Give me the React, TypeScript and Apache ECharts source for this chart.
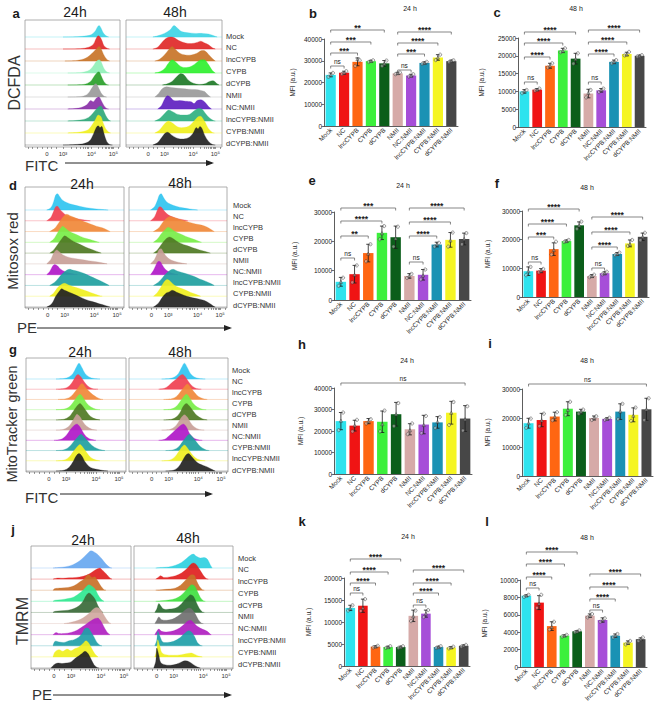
import React, { useEffect, useRef, useState } from "react";
import * as echarts from "echarts";

// ---------------- categories & labels ----------------
const GROUPS = ["Mock", "NC", "lncCYPB", "CYPB", "dCYPB", "NMII", "NC:NMII", "lncCYPB:NMII", "CYPB:NMII", "dCYPB:NMII"];
const GROUPS_G = ["Mock", "NC", "lncCYPB", "CYPB", "dCYPB", "NMII", "NC:NMII", "CYPB:NMII", "lncCYPB:NMII", "dCYPB:NMII"];
const BAR_COLORS = ["#2ee3ee", "#f01414", "#ff6612", "#3cf03c", "#0b5e1a", "#d6aaa8", "#a64ed8", "#1a92b4", "#f5f522", "#474747"];
const FLOW_TICK_LABELS = ["0", "10³", "10⁴", "10⁵"];
const FLOW_TICK_AT = [23, 40, 70, 93];
const FLOW_MINOR_AT = [3, 8, 13, 18, 23, 28, 33, 40, 49, 54, 58, 61, 63, 65, 67, 70, 77, 81, 84, 86, 88, 89, 91, 92, 93, 98];

// ---------------- bar data (MFI, a.u.) ----------------
const B_MEAN = [23500, 24500, 29500, 29800, 28800, 24200, 23200, 29000, 31500, 29800];
const B_SD = [900, 700, 1800, 400, 1300, 500, 600, 500, 1300, 500];
const B_REPS = [[22600, 23500, 24400], [23900, 24500, 25200], [27600, 30800, 30200], [29400, 29900, 30200], [27600, 28700, 30100], [23800, 24300, 24600], [22700, 23100, 23800], [28600, 29000, 29500], [30300, 31500, 32800], [29400, 29900, 30200]];
const B_SIG = [[0, 4, "**"], [0, 3, "***"], [0, 2, "***"], [0, 1, "ns"], [5, 9, "****"], [5, 8, "****"], [5, 7, "***"], [5, 6, "ns"]];

const C_MEAN = [10000, 10500, 17200, 21500, 19200, 9400, 10300, 18300, 20500, 20000];
const C_SD = [500, 300, 700, 600, 1500, 1200, 500, 500, 500, 200];
const C_REPS = [[9500, 10100, 10400], [10200, 10500, 10800], [16700, 17200, 17900], [21000, 21400, 22100], [17800, 19100, 20700], [8300, 9600, 10400], [9800, 10400, 10800], [17900, 18300, 18800], [20100, 20400, 21100], [19800, 20000, 20200]];
const C_SIG = [[0, 4, "****"], [0, 3, "****"], [0, 2, "****"], [0, 1, "ns"], [5, 9, "****"], [5, 8, "****"], [5, 7, "****"], [5, 6, "ns"]];

const E_MEAN = [6200, 8800, 16000, 22900, 21400, 8200, 8600, 18900, 20500, 20800];
const E_SD = [1500, 3000, 3000, 2300, 3800, 800, 1800, 800, 2500, 2000];
const E_REPS = [[4800, 6200, 7600], [6000, 8600, 11800], [13200, 15800, 19000], [20700, 22800, 25200], [18200, 21000, 25000], [7500, 8200, 8900], [7000, 8400, 10400], [18200, 19000, 19500], [18200, 20300, 23000], [19000, 20800, 22800]];
const E_SIG = [[0, 4, "***"], [0, 3, "****"], [0, 2, "**"], [0, 1, "ns"], [5, 9, "****"], [5, 8, "****"], [5, 7, "****"], [5, 6, "ns"]];

const F_MEAN = [9000, 9200, 16700, 19500, 25000, 7300, 8300, 15000, 18700, 21000];
const F_SD = [1500, 700, 2200, 400, 1200, 500, 500, 500, 1200, 1300];
const F_REPS = [[7600, 9000, 10500], [8600, 9200, 9800], [14800, 16400, 19300], [19200, 19500, 19900], [23800, 25000, 26300], [6900, 7300, 7800], [7900, 8300, 8800], [14600, 15000, 15500], [17800, 18400, 19900], [19800, 21000, 22400]];
const F_SIG = [[0, 4, "****"], [0, 3, "****"], [0, 2, "***"], [0, 1, "ns"], [5, 9, "****"], [5, 8, "****"], [5, 7, "****"], [5, 6, "ns"]];

const H_MEAN = [24600, 22500, 24600, 24300, 27800, 20800, 23000, 24000, 28500, 25800];
const H_SD = [4000, 2500, 1200, 5000, 5500, 2600, 4300, 2700, 5300, 6000];
const H_REPS = [[20400, 24800, 28600], [19800, 22600, 25200], [23500, 24500, 25500], [19800, 23200, 29500], [22300, 27800, 33000], [18500, 20400, 23500], [19000, 22800, 27000], [21400, 24300, 26500], [22800, 28500, 33500], [20200, 25500, 31500]];
const H_SIG = [[0, 9, "ns"]];

const I_MEAN = [18200, 19300, 20500, 23200, 22200, 20000, 19700, 22200, 21100, 23000];
const I_SD = [1700, 2300, 1500, 2400, 800, 700, 400, 2700, 2400, 3800];
const I_REPS = [[16600, 18200, 19800], [17200, 19200, 21500], [19200, 20400, 22000], [21000, 22800, 25600], [21500, 22200, 22900], [19300, 20100, 20600], [19300, 19700, 20100], [19600, 22300, 24900], [19000, 20800, 23600], [19300, 23000, 26800]];
const I_SIG = [[0, 9, "ns"]];

const K_MEAN = [13200, 13700, 4400, 4300, 4300, 11400, 11900, 4300, 4200, 4600];
const K_SD = [600, 1500, 200, 200, 200, 1300, 800, 200, 200, 200];
const K_REPS = [[12600, 13100, 13800], [12500, 13200, 15200], [4200, 4400, 4600], [4100, 4300, 4500], [4100, 4300, 4500], [10200, 11300, 12600], [11100, 11900, 12700], [4100, 4300, 4500], [4000, 4200, 4400], [4400, 4600, 4800]];
const K_SIG = [[0, 4, "****"], [0, 3, "****"], [0, 2, "****"], [0, 1, "ns"], [5, 9, "****"], [5, 8, "****"], [5, 7, "****"], [5, 6, "ns"]];

const L_MEAN = [8200, 7400, 4700, 3600, 4100, 5900, 5400, 3600, 2800, 3200];
const L_SD = [100, 800, 500, 100, 80, 200, 250, 200, 200, 150];
const L_REPS = [[8050, 8200, 8300], [6800, 7300, 8300], [4300, 4600, 5200], [3500, 3600, 3700], [4000, 4100, 4200], [5700, 5900, 6100], [5200, 5400, 5600], [3400, 3600, 3800], [2600, 2800, 3000], [3000, 3200, 3400]];
const L_SIG = [[0, 4, "****"], [0, 3, "****"], [0, 2, "****"], [0, 1, "ns"], [5, 9, "****"], [5, 8, "****"], [5, 7, "****"], [5, 6, "ns"]];

// ---------------- flow histograms: [x (axis units 0..100), height (rows)] ----------------
const A24 = [
  [[40, 0], [55, 0.03], [65, 0.1], [70, 0.2], [74, 0.5], [76, 0.8], [78, 0.95], [80, 0.75], [82, 0.4], [85, 0.12], [88, 0]],
  [[40, 0], [58, 0.03], [67, 0.15], [72, 0.4], [75, 0.9], [77, 1.1], [79, 1.0], [81, 0.7], [83, 0.3], [86, 0.08], [89, 0]],
  [[42, 0], [55, 0.05], [63, 0.2], [68, 0.45], [72, 0.75], [75, 1.0], [78, 1.2], [80, 1.05], [83, 0.5], [86, 0.15], [89, 0]],
  [[45, 0], [60, 0.05], [68, 0.25], [72, 0.6], [75, 0.95], [78, 1.1], [80, 0.95], [83, 0.4], [86, 0.1], [89, 0]],
  [[45, 0], [62, 0.05], [69, 0.3], [73, 0.75], [76, 1.05], [78, 1.1], [80, 0.8], [83, 0.3], [86, 0.05], [88, 0]],
  [[45, 0], [60, 0.05], [66, 0.25], [70, 0.7], [73, 1.05], [75, 1.1], [77, 0.85], [80, 0.35], [83, 0.08], [86, 0]],
  [[45, 0], [58, 0.1], [65, 0.35], [69, 0.7], [72, 0.6], [75, 0.9], [78, 1.0], [80, 0.75], [83, 0.3], [86, 0.05], [88, 0]],
  [[45, 0], [60, 0.1], [67, 0.3], [71, 0.6], [74, 0.9], [77, 1.15], [80, 1.25], [82, 1.0], [85, 0.45], [88, 0.1], [90, 0]],
  [[45, 0], [58, 0.08], [66, 0.25], [70, 0.6], [74, 1.1], [77, 1.5], [80, 1.35], [82, 0.9], [85, 0.35], [88, 0.08], [90, 0]],
  [[40, 0], [55, 0.05], [62, 0.12], [68, 0.35], [72, 0.9], [75, 1.45], [77, 1.6], [79, 1.45], [81, 1.55], [83, 1.0], [86, 0.3], [89, 0.05], [92, 0]],
];
const A48 = [
  [[28, 0], [33, 0.1], [40, 0.3], [46, 0.6], [50, 0.95], [54, 0.7], [58, 0.45], [65, 0.35], [72, 0.3], [80, 0.3], [86, 0.25], [91, 0.12], [95, 0]],
  [[28, 0], [33, 0.15], [38, 0.6], [42, 0.9], [46, 1.0], [50, 0.95], [55, 0.7], [62, 0.5], [68, 0.45], [74, 0.55], [78, 0.65], [82, 0.5], [86, 0.35], [90, 0.1], [93, 0]],
  [[30, 0], [35, 0.15], [40, 0.5], [44, 0.9], [48, 1.2], [51, 1.0], [56, 0.65], [62, 0.5], [68, 0.5], [74, 0.65], [78, 0.85], [82, 0.85], [86, 0.55], [90, 0.2], [93, 0]],
  [[30, 0], [35, 0.1], [40, 0.35], [44, 0.8], [48, 1.1], [52, 0.9], [57, 0.55], [63, 0.45], [69, 0.6], [74, 0.9], [78, 1.1], [82, 1.1], [86, 0.7], [90, 0.2], [93, 0]],
  [[38, 0], [43, 0.1], [48, 0.3], [53, 0.7], [57, 0.95], [61, 0.8], [65, 0.4], [70, 0.15], [76, 0.05], [82, 0.1], [87, 0.3], [91, 0.35], [95, 0.1], [97, 0]],
  [[30, 0], [34, 0.3], [38, 0.7], [42, 0.85], [47, 0.8], [52, 0.75], [58, 0.7], [65, 0.65], [72, 0.62], [78, 0.55], [82, 0.45], [85, 0.2], [88, 0]],
  [[33, 0], [37, 0.3], [40, 0.8], [43, 1.1], [46, 1.0], [50, 0.7], [56, 0.7], [62, 0.65], [68, 0.6], [71, 0.45], [74, 0.7], [79, 0.75], [83, 0.5], [86, 0.2], [89, 0]],
  [[30, 0], [35, 0.2], [40, 0.6], [44, 0.9], [48, 0.8], [54, 0.55], [60, 0.5], [66, 0.55], [71, 0.85], [75, 1.05], [79, 1.0], [83, 0.6], [87, 0.25], [91, 0.05], [93, 0]],
  [[30, 0], [35, 0.25], [40, 0.75], [44, 1.0], [48, 0.85], [54, 0.5], [60, 0.45], [66, 0.6], [71, 1.0], [75, 1.35], [78, 1.4], [82, 0.95], [86, 0.35], [90, 0.05], [92, 0]],
  [[28, 0], [33, 0.2], [37, 0.6], [41, 1.0], [44, 1.05], [48, 0.8], [54, 0.55], [60, 0.5], [66, 0.65], [70, 1.0], [73, 1.45], [75, 1.35], [77, 1.55], [79, 1.4], [82, 0.8], [86, 0.3], [90, 0.05], [93, 0]],
];
const D24 = [
  [[22, 0], [26, 0.2], [29, 0.8], [31, 1.4], [33, 1.5], [35, 1.25], [38, 0.9], [42, 0.7], [48, 0.5], [55, 0.35], [62, 0.22], [70, 0.12], [78, 0.05], [84, 0]],
  [[22, 0], [26, 0.3], [29, 0.9], [31, 1.3], [33, 1.35], [35, 1.1], [38, 0.8], [42, 0.5], [48, 0.3], [55, 0.15], [62, 0.05], [66, 0]],
  [[25, 0], [30, 0.3], [34, 0.8], [38, 1.3], [42, 1.6], [46, 1.45], [50, 1.3], [55, 1.1], [60, 0.9], [66, 0.7], [72, 0.5], [78, 0.35], [83, 0.15], [86, 0]],
  [[25, 0], [29, 0.3], [33, 0.9], [36, 1.3], [38, 1.5], [41, 1.3], [45, 1.0], [50, 0.8], [56, 0.55], [62, 0.35], [68, 0.2], [73, 0.05], [75, 0]],
  [[25, 0], [29, 0.3], [33, 0.8], [37, 1.3], [40, 1.6], [43, 1.45], [47, 1.2], [52, 0.95], [58, 0.7], [64, 0.45], [70, 0.25], [75, 0.08], [77, 0]],
  [[22, 0], [26, 0.4], [29, 1.0], [32, 1.3], [35, 1.1], [38, 0.85], [43, 0.65], [50, 0.5], [57, 0.4], [64, 0.3], [72, 0.2], [78, 0.1], [83, 0]],
  [[22, 0], [25, 0.3], [28, 0.8], [30, 0.95], [33, 0.8], [36, 0.5], [40, 0.3], [45, 0.15], [50, 0.05], [53, 0]],
  [[25, 0], [30, 0.3], [34, 0.7], [38, 1.1], [42, 1.4], [45, 1.5], [49, 1.4], [54, 1.3], [60, 1.1], [66, 0.85], [72, 0.6], [78, 0.35], [83, 0.1], [85, 0]],
  [[25, 0], [29, 0.3], [33, 0.8], [37, 1.1], [40, 1.2], [44, 1.05], [48, 0.9], [54, 0.75], [60, 0.55], [66, 0.35], [72, 0.15], [76, 0.03], [78, 0]],
  [[22, 0], [27, 0.3], [31, 1.0], [35, 1.5], [37, 1.7], [40, 1.55], [44, 1.4], [49, 1.2], [55, 0.95], [61, 0.7], [68, 0.5], [75, 0.3], [81, 0.15], [86, 0]],
];
const D48 = [
  [[22, 0], [26, 0.3], [29, 0.9], [31, 1.4], [33, 1.5], [35, 1.2], [38, 0.8], [42, 0.55], [48, 0.35], [55, 0.2], [62, 0.1], [68, 0.03], [70, 0]],
  [[22, 0], [26, 0.35], [29, 1.0], [31, 1.3], [33, 1.25], [36, 0.9], [40, 0.55], [46, 0.3], [52, 0.15], [58, 0.05], [60, 0]],
  [[25, 0], [30, 0.3], [34, 0.8], [38, 1.2], [42, 1.4], [46, 1.3], [51, 1.15], [56, 1.0], [62, 0.85], [68, 0.7], [74, 0.6], [80, 0.4], [85, 0.12], [87, 0]],
  [[25, 0], [29, 0.3], [33, 0.8], [37, 1.2], [40, 1.4], [43, 1.25], [47, 1.0], [52, 0.8], [58, 0.55], [64, 0.35], [70, 0.15], [74, 0]],
  [[25, 0], [29, 0.3], [33, 0.8], [37, 1.25], [41, 1.5], [44, 1.4], [48, 1.15], [53, 0.9], [59, 0.7], [65, 0.5], [72, 0.3], [78, 0.15], [83, 0]],
  [[22, 0], [26, 0.4], [29, 1.0], [31, 1.35], [33, 1.4], [35, 1.1], [38, 0.7], [42, 0.4], [48, 0.2], [54, 0.08], [59, 0]],
  [[22, 0], [25, 0.4], [28, 1.0], [30, 1.25], [32, 1.2], [34, 0.9], [37, 0.5], [41, 0.25], [46, 0.08], [50, 0]],
  [[25, 0], [30, 0.3], [34, 0.7], [38, 1.1], [42, 1.4], [45, 1.5], [49, 1.35], [54, 1.2], [60, 1.05], [66, 0.85], [72, 0.6], [78, 0.4], [84, 0.15], [87, 0]],
  [[25, 0], [29, 0.35], [33, 0.9], [36, 1.35], [39, 1.55], [42, 1.4], [46, 1.05], [51, 0.8], [57, 0.6], [63, 0.35], [69, 0.15], [73, 0]],
  [[25, 0], [30, 0.35], [34, 0.9], [38, 1.3], [41, 1.4], [44, 1.55], [48, 1.4], [53, 1.2], [59, 1.0], [65, 0.85], [71, 0.75], [77, 0.6], [82, 0.35], [86, 0.1], [88, 0]],
];
const G24 = [
  [[30, 0], [38, 0.05], [43, 0.2], [47, 0.55], [50, 1.1], [53, 1.55], [56, 1.1], [59, 0.55], [63, 0.2], [68, 0.05], [74, 0]],
  [[30, 0], [38, 0.07], [43, 0.3], [47, 0.8], [50, 1.3], [52, 1.45], [55, 1.2], [58, 0.75], [62, 0.3], [66, 0.08], [72, 0]],
  [[32, 0], [40, 0.07], [45, 0.3], [49, 0.75], [53, 1.25], [56, 1.55], [59, 1.25], [63, 0.8], [67, 0.45], [71, 0.2], [75, 0.03], [77, 0]],
  [[30, 0], [38, 0.06], [43, 0.25], [47, 0.7], [51, 1.25], [54, 1.5], [57, 1.2], [61, 0.6], [65, 0.25], [70, 0.05], [74, 0]],
  [[30, 0], [38, 0.07], [43, 0.3], [47, 0.8], [51, 1.35], [54, 1.6], [57, 1.3], [61, 0.75], [65, 0.3], [70, 0.08], [74, 0]],
  [[30, 0], [37, 0.06], [42, 0.3], [46, 0.8], [49, 1.3], [51, 1.55], [54, 1.3], [57, 0.8], [61, 0.35], [66, 0.08], [71, 0]],
  [[28, 0], [35, 0.1], [40, 0.45], [44, 1.0], [48, 1.45], [51, 1.6], [54, 1.3], [57, 0.8], [61, 0.3], [66, 0.07], [70, 0]],
  [[30, 0], [38, 0.08], [43, 0.35], [47, 0.8], [51, 1.25], [55, 1.6], [58, 1.35], [62, 0.9], [66, 0.5], [71, 0.2], [76, 0.05], [79, 0]],
  [[30, 0], [38, 0.07], [43, 0.35], [47, 0.85], [51, 1.35], [54, 1.6], [57, 1.3], [61, 0.75], [65, 0.3], [70, 0.08], [74, 0]],
  [[30, 0], [38, 0.08], [43, 0.35], [47, 0.9], [50, 1.45], [53, 1.7], [56, 1.45], [59, 0.9], [63, 0.45], [67, 0.25], [72, 0.15], [77, 0.05], [82, 0]],
];
const G48 = [
  [[33, 0], [41, 0.05], [46, 0.2], [50, 0.55], [53, 1.1], [56, 1.55], [59, 1.1], [62, 0.55], [66, 0.2], [71, 0.05], [77, 0]],
  [[30, 0], [36, 0.1], [40, 0.35], [44, 0.7], [48, 1.0], [51, 1.3], [54, 1.45], [57, 1.2], [60, 0.75], [64, 0.3], [68, 0.08], [73, 0]],
  [[35, 0], [43, 0.07], [48, 0.3], [52, 0.75], [56, 1.25], [59, 1.5], [62, 1.2], [66, 0.7], [70, 0.3], [75, 0.08], [79, 0]],
  [[35, 0], [42, 0.06], [47, 0.25], [51, 0.7], [55, 1.25], [58, 1.5], [61, 1.2], [65, 0.6], [69, 0.25], [74, 0.05], [78, 0]],
  [[35, 0], [43, 0.07], [48, 0.3], [52, 0.8], [55, 1.35], [58, 1.6], [61, 1.35], [65, 0.85], [69, 0.4], [74, 0.12], [79, 0]],
  [[33, 0], [41, 0.06], [46, 0.3], [50, 0.8], [53, 1.25], [56, 1.5], [59, 1.25], [62, 0.75], [66, 0.3], [71, 0.07], [76, 0]],
  [[30, 0], [36, 0.1], [40, 0.4], [44, 0.75], [48, 1.1], [52, 1.45], [55, 1.6], [58, 1.3], [61, 0.7], [65, 0.25], [70, 0.05], [74, 0]],
  [[37, 0], [45, 0.08], [50, 0.35], [54, 0.85], [58, 1.35], [61, 1.6], [64, 1.35], [68, 0.85], [72, 0.4], [77, 0.1], [81, 0]],
  [[33, 0], [41, 0.07], [46, 0.35], [50, 0.85], [53, 1.3], [56, 1.55], [59, 1.25], [63, 0.7], [67, 0.3], [72, 0.07], [77, 0]],
  [[37, 0], [45, 0.08], [50, 0.4], [54, 1.0], [57, 1.5], [60, 1.7], [63, 1.45], [67, 1.0], [71, 0.7], [75, 0.55], [79, 0.4], [83, 0.2], [87, 0]],
];
const J24 = [
  [[22, 0], [28, 0.05], [35, 0.12], [42, 0.3], [48, 0.6], [53, 1.0], [57, 1.35], [60, 1.55], [63, 1.45], [67, 1.2], [71, 0.8], [75, 0.35], [79, 0.05], [81, 0]],
  [[22, 0], [27, 0.1], [32, 0.08], [38, 0.12], [45, 0.15], [52, 0.25], [58, 0.45], [63, 0.75], [67, 0.95], [69, 1.0], [72, 0.75], [76, 0.4], [79, 0.1], [81, 0]],
  [[22, 0], [24, 0.15], [30, 0.2], [37, 0.25], [43, 0.4], [48, 0.7], [53, 1.0], [56, 1.35], [58, 1.4], [61, 1.15], [64, 1.2], [67, 0.8], [70, 0.35], [73, 0.05], [75, 0]],
  [[22, 0], [24, 0.1], [30, 0.15], [37, 0.25], [43, 0.4], [48, 0.7], [52, 1.0], [55, 1.3], [58, 1.5], [61, 1.35], [64, 1.1], [67, 0.6], [70, 0.2], [73, 0]],
  [[22, 0], [24, 0.1], [30, 0.15], [37, 0.2], [43, 0.35], [48, 0.6], [52, 1.0], [55, 1.5], [58, 1.75], [61, 1.55], [64, 1.2], [67, 0.6], [70, 0.15], [72, 0]],
  [[33, 0], [38, 0.08], [44, 0.2], [50, 0.4], [55, 0.7], [59, 1.0], [63, 1.35], [66, 1.45], [69, 1.3], [72, 0.9], [75, 0.45], [78, 0.1], [80, 0]],
  [[22, 0], [25, 0.2], [28, 0.1], [33, 0.1], [40, 0.2], [46, 0.4], [52, 0.75], [56, 1.0], [60, 1.25], [64, 1.45], [67, 1.5], [70, 1.2], [73, 0.7], [76, 0.25], [79, 0]],
  [[22, 0], [24, 0.4], [28, 0.35], [33, 0.3], [38, 0.45], [43, 0.55], [48, 0.8], [51, 1.1], [54, 1.55], [57, 1.6], [60, 1.25], [63, 0.8], [66, 0.3], [69, 0.05], [71, 0]],
  [[22, 0], [24, 0.45], [28, 0.65], [32, 0.5], [36, 0.7], [40, 0.55], [44, 0.75], [48, 0.9], [52, 1.2], [55, 1.45], [58, 1.2], [61, 0.7], [64, 0.25], [67, 0]],
  [[20, 0], [23, 0.3], [27, 0.45], [31, 0.4], [35, 0.45], [40, 0.55], [44, 0.85], [48, 1.1], [51, 1.3], [54, 1.5], [57, 1.3], [60, 0.8], [63, 0.3], [66, 0.05], [68, 0]],
];
const J48 = [
  [[22, 0], [27, 0.05], [35, 0.1], [42, 0.25], [48, 0.5], [53, 0.85], [57, 1.15], [60, 1.25], [63, 1.05], [67, 0.9], [71, 0.95], [74, 0.8], [77, 0.3], [79, 0]],
  [[22, 0], [25, 0.2], [27, 0.3], [30, 0.15], [36, 0.2], [42, 0.3], [48, 0.55], [53, 0.9], [57, 1.3], [60, 1.45], [63, 1.3], [66, 0.9], [70, 0.35], [73, 0.05], [75, 0]],
  [[22, 0], [28, 0.05], [35, 0.1], [42, 0.2], [47, 0.45], [51, 0.8], [55, 1.2], [58, 1.4], [61, 1.35], [63, 0.9], [66, 0.35], [69, 0.05], [71, 0]],
  [[22, 0], [28, 0.05], [35, 0.12], [42, 0.25], [47, 0.5], [51, 0.85], [55, 1.25], [58, 1.5], [61, 1.4], [64, 0.9], [67, 0.35], [70, 0.05], [72, 0]],
  [[21, 0], [23, 0.3], [25, 0.8], [27, 0.6], [30, 0.3], [36, 0.3], [42, 0.4], [47, 0.7], [51, 1.1], [55, 1.45], [57, 1.6], [60, 1.45], [63, 0.9], [66, 0.35], [69, 0.05], [71, 0]],
  [[21, 0], [23, 0.3], [25, 0.6], [28, 0.35], [33, 0.3], [39, 0.4], [44, 0.65], [49, 1.0], [53, 1.3], [56, 1.4], [59, 1.25], [62, 0.85], [65, 0.35], [68, 0.05], [70, 0]],
  [[21, 0], [23, 0.3], [25, 0.5], [28, 0.3], [33, 0.25], [40, 0.35], [46, 0.6], [51, 0.95], [54, 1.2], [57, 1.3], [60, 1.1], [64, 0.75], [69, 0.5], [74, 0.3], [77, 0.05], [78, 0]],
  [[21, 0], [23, 0.5], [24, 1.3], [26, 0.9], [29, 0.35], [34, 0.3], [40, 0.4], [46, 0.7], [51, 1.1], [55, 1.35], [58, 1.25], [61, 0.85], [64, 0.3], [67, 0.05], [69, 0]],
  [[21, 0], [23, 0.6], [24, 1.55], [26, 1.0], [28, 0.4], [32, 0.2], [40, 0.15], [48, 0.2], [54, 0.3], [58, 0.35], [62, 0.2], [66, 0.05], [69, 0]],
  [[20, 0], [22, 0.6], [23, 1.8], [25, 1.2], [27, 0.5], [31, 0.3], [37, 0.25], [43, 0.35], [48, 0.55], [52, 0.65], [56, 0.55], [60, 0.3], [64, 0.1], [67, 0]],
];

const A24_COL = ["#3fd4e4", "#e02828", "#c87428", "#90f0b8", "#2aa02a", "#9a9a9a", "#8a30a8", "#30a878", "#f0f020", "#222222"];
const A48_COL = ["#3fd4e4", "#e02828", "#c87428", "#30f030", "#207a28", "#9a9a9a", "#6020c0", "#30b080", "#f0f020", "#222222"];
const D_COL = ["#30c4f0", "#f04050", "#f08838", "#78ee48", "#4f7a24", "#c8a098", "#b018c8", "#20a0a0", "#f0f020", "#222222"];
const J24_COL = ["#68a8f0", "#e02020", "#c87028", "#30e890", "#3a6a38", "#d0a8a0", "#b020c0", "#20a0a8", "#f0f020", "#222222"];
const J48_COL = ["#30d0e0", "#e02020", "#c87028", "#40e040", "#2a6a30", "#707070", "#b020c0", "#20a0a8", "#f0f020", "#222222"];

// ---------------- layout (pixels) ----------------
const FONT = "'Liberation Sans', Arial, Helvetica, sans-serif";

const FLOW_PANELS = [
  { curves: A24, colors: A24_COL, left: 25, right: 120, top: 20, bottom: 147, firstBase: 37, lastBase: 145 },
  { curves: A48, colors: A48_COL, left: 126, right: 222, top: 20, bottom: 147, firstBase: 37, lastBase: 145 },
  { curves: D24, colors: D_COL, left: 25, right: 124, top: 187, bottom: 308, firstBase: 210, lastBase: 307 },
  { curves: D48, colors: D_COL, left: 129, right: 227, top: 187, bottom: 308, firstBase: 210, lastBase: 307 },
  { curves: G24, colors: D_COL, left: 26, right: 126, top: 358, bottom: 472, firstBase: 379, lastBase: 471 },
  { curves: G48, colors: D_COL, left: 129, right: 228, top: 358, bottom: 472, firstBase: 379, lastBase: 471 },
  { curves: J24, colors: J24_COL, left: 31, right: 131, top: 546, bottom: 669, firstBase: 568, lastBase: 668 },
  { curves: J48, colors: J48_COL, left: 134, right: 233, top: 546, bottom: 669, firstBase: 568, lastBase: 668 },
];

const FLOW_BLOCKS = [
  { letter: "a", lx: 16, ly: 13, t24: [75, 12], t48: [175, 12], ylab: "DCFDA", yx: 14, yy: 83, yfs: 16, xlab: "FITC", xx: 25, xy: 165, arrow: [65, 214, 163], rowX: 226, rowY0: 36, rowY1: 143, rows: GROUPS },
  { letter: "d", lx: 13, ly: 185, t24: [82, 184], t48: [180, 183], ylab: "Mitosox red", yx: 12, yy: 251, yfs: 15, xlab: "PE", xx: 17, xy: 327, arrow: [37, 232, 328], rowX: 233, rowY0: 205, rowY1: 305, rows: GROUPS },
  { letter: "g", lx: 13, ly: 349, t24: [80, 352], t48: [180, 352], ylab: "MitoTracker green", yx: 12, yy: 424, yfs: 14.5, xlab: "FITC", xx: 25, xy: 497, arrow: [60, 213, 494], rowX: 232, rowY0: 370, rowY1: 470, rows: GROUPS_G },
  { letter: "j", lx: 13, ly: 529, t24: [83, 540], t48: [188, 538], ylab: "TMRM", yx: 22, yy: 621, yfs: 16, xlab: "PE", xx: 32, xy: 694, arrow: [53, 232, 695], rowX: 238, rowY0: 558, rowY1: 664, rows: GROUPS },
];

const BAR_PANELS = [
  { letter: "b", lx: 313, ly: 13, mean: B_MEAN, sd: B_SD, reps: B_REPS, sig: B_SIG, left: 324, width: 134, top: 39, bottom: 126, max: 40000, interval: 10000, nameGap: 28, sigY: [30, 42, 53, 66, 32, 43, 54, 70], title: "24 h", tx: 410, ty: 8 },
  { letter: "c", lx: 497, ly: 12, mean: C_MEAN, sd: C_SD, reps: C_REPS, sig: C_SIG, left: 518, width: 128, top: 38, bottom: 127, max: 25000, interval: 5000, nameGap: 33, sigY: [32, 43, 57, 82, 30, 42, 54, 82], title: "48 h", tx: 576, ty: 8 },
  { letter: "e", lx: 312, ly: 180, mean: E_MEAN, sd: E_SD, reps: E_REPS, sig: E_SIG, left: 334, width: 137, top: 212, bottom: 300, max: 30000, interval: 10000, nameGap: 36, sigY: [208, 221, 236, 258, 208, 222, 236, 262], title: "24 h", tx: 403, ty: 185 },
  { letter: "f", lx: 497, ly: 183, mean: F_MEAN, sd: F_SD, reps: F_REPS, sig: F_SIG, left: 522, width: 127, top: 211, bottom: 297, max: 30000, interval: 10000, nameGap: 31, sigY: [209, 224, 237, 262, 217, 232, 247, 268], title: "48 h", tx: 587, ty: 187 },
  { letter: "h", lx: 302, ly: 344, mean: H_MEAN, sd: H_SD, reps: H_REPS, sig: H_SIG, left: 334, width: 138, top: 388, bottom: 474, max: 40000, interval: 10000, nameGap: 30, sigY: [383], title: "24 h", tx: 407, ty: 360 },
  { letter: "i", lx: 490, ly: 343, mean: I_MEAN, sd: I_SD, reps: I_REPS, sig: I_SIG, left: 522, width: 131, top: 389, bottom: 476, max: 30000, interval: 10000, nameGap: 31, sigY: [384], title: "48 h", tx: 587, ty: 360 },
  { letter: "k", lx: 302, ly: 521, mean: K_MEAN, sd: K_SD, reps: K_REPS, sig: K_SIG, left: 344, width: 126, top: 578, bottom: 666, max: 20000, interval: 5000, nameGap: 32, sigY: [559, 572, 583, 593, 570, 583, 593, 605], title: "24 h", tx: 408, ty: 536 },
  { letter: "l", lx: 487, ly: 521, mean: L_MEAN, sd: L_SD, reps: L_REPS, sig: L_SIG, left: 520, width: 127, top: 580, bottom: 667, max: 10000, interval: 2000, nameGap: 32, sigY: [552, 564, 577, 588, 574, 587, 599, 610], title: "48 h", tx: 587, ty: 537 },
];

const REP_SYMBOLS = ["circle", "triangle", "circle"];
const REP_OFFSETS = [-2.2, 0, 2.2];

function txt(x: number, y: number, text: string, fontSize: number, extra: any = {}, rotation = 0) {
  return {
    type: "text",
    x,
    y,
    rotation,
    silent: true,
    style: {
      text,
      fontSize,
      fontFamily: FONT,
      fill: extra.fill || "#1a1a1a",
      fontWeight: extra.fontWeight || "normal",
      align: extra.align || "center",
      verticalAlign: "middle",
    },
  };
}

function buildOption() {
  const grid: any[] = [];
  const xAxis: any[] = [];
  const yAxis: any[] = [];
  const series: any[] = [];
  const elements: any[] = [];

  // ---- flow cytometry ridge histograms ----
  FLOW_PANELS.forEach((p, gi) => {
    const spacing = (p.lastBase - p.firstBase) / 9;
    const yMax = (p.bottom - p.top) / spacing;
    const b0 = (p.bottom - p.lastBase) / spacing;
    grid.push({ left: p.left, top: p.top, width: p.right - p.left, height: p.bottom - p.top, show: true, borderColor: "#9a9a9a", borderWidth: 0.8 });
    xAxis.push({
      gridIndex: gi, type: "value", min: 0, max: 100,
      axisLine: { show: false }, splitLine: { show: false },
      axisTick: { show: true, customValues: FLOW_MINOR_AT, length: 2, inside: false, lineStyle: { color: "#555", width: 0.6 } },
      axisLabel: {
        customValues: FLOW_TICK_AT, fontSize: 6, color: "#333", margin: 4, fontFamily: FONT,
        formatter: (v: number) => { const k = FLOW_TICK_AT.indexOf(Math.round(v)); return k >= 0 ? FLOW_TICK_LABELS[k] : ""; },
      },
    });
    yAxis.push({ gridIndex: gi, type: "value", min: 0, max: yMax, show: false, splitLine: { show: false } });
    series.push({
      type: "custom", xAxisIndex: gi, yAxisIndex: gi, silent: true,
      data: p.curves.map((_, r) => [r, 0]),
      encode: { x: 0, y: 1 },
      renderItem: (params: any, api: any) => {
        const r = params.dataIndex;
        const pts = p.curves[r];
        const col = p.colors[r];
        const base = 9 - r + b0;
        const poly = pts.map((q: number[]) => api.coord([q[0], base + q[1]]));
        const L = api.coord([0, base]);
        const R = api.coord([100, base]);
        return {
          type: "group",
          children: [
            { type: "line", shape: { x1: L[0], y1: L[1], x2: R[0], y2: R[1] }, style: { stroke: col, lineWidth: 1, opacity: 0.3 } },
            { type: "polygon", shape: { points: poly, smooth: 0.35, smoothConstraint: [poly[0], poly[0]] }, style: { fill: col, opacity: 0.92, stroke: col, lineWidth: 0.3 } },
          ],
        };
      },
    });
  });

  FLOW_BLOCKS.forEach((b) => {
    elements.push(txt(b.lx, b.ly, b.letter, 13, { fontWeight: "bold" }));
    elements.push(txt(b.t24[0], b.t24[1], "24h", 14));
    elements.push(txt(b.t48[0], b.t48[1], "48h", 14));
    elements.push(txt(b.yx, b.yy, b.ylab, b.yfs, { fill: "#333" }, Math.PI / 2));
    elements.push(txt(b.xx, b.xy, b.xlab, 15, { align: "left", fill: "#333" }));
    const [ax0, ax1, ay] = b.arrow;
    elements.push({ type: "line", silent: true, shape: { x1: ax0, y1: ay, x2: ax1 - 2, y2: ay }, style: { stroke: "#222", lineWidth: 1 } });
    elements.push({ type: "polygon", silent: true, shape: { points: [[ax1 - 8, ay - 3], [ax1, ay], [ax1 - 8, ay + 3]] }, style: { fill: "#222" } });
    b.rows.forEach((name, r) => {
      const y = b.rowY0 + ((b.rowY1 - b.rowY0) * r) / 9;
      elements.push(txt(b.rowX, y, name, 7.5, { align: "left", fill: "#333" }));
    });
  });

  // ---- bar charts ----
  BAR_PANELS.forEach((p, k) => {
    const gi = FLOW_PANELS.length + k;
    grid.push({ left: p.left, top: p.top, width: p.width, height: p.bottom - p.top });
    xAxis.push({
      gridIndex: gi, type: "category", data: GROUPS,
      axisLine: { lineStyle: { color: "#333", width: 0.8 } },
      axisTick: { alignWithLabel: true, length: 2.5, lineStyle: { color: "#333", width: 0.7 } },
      axisLabel: { interval: 0, rotate: 45, fontSize: 6.5, color: "#222", margin: 3, fontFamily: FONT },
    });
    yAxis.push({
      gridIndex: gi, type: "value", min: 0, max: p.max, interval: p.interval,
      splitLine: { show: false },
      axisLine: { show: true, lineStyle: { color: "#333", width: 0.8 } },
      axisTick: { show: true, length: 2.5, lineStyle: { color: "#333", width: 0.7 } },
      axisLabel: { fontSize: 6.5, color: "#222", margin: 2, fontFamily: FONT, formatter: (v: number) => String(v) },
      name: "MFI (a.u.)", nameLocation: "middle", nameGap: p.nameGap,
      nameTextStyle: { fontSize: 6.5, color: "#222", fontFamily: FONT },
    });
    series.push({
      type: "bar", xAxisIndex: gi, yAxisIndex: gi, barWidth: "76%", silent: true, z: 2,
      data: p.mean.map((v, i) => ({ value: v, itemStyle: { color: BAR_COLORS[i] } })),
    });
    series.push({
      type: "custom", xAxisIndex: gi, yAxisIndex: gi, silent: true, z: 3,
      data: p.mean.map((m, i) => [i, m, p.sd[i]]),
      encode: { x: 0, y: 1 },
      renderItem: (params: any, api: any) => {
        const i = api.value(0), m = api.value(1), s = api.value(2);
        const t = api.coord([i, m + s]);
        const bt = api.coord([i, m - s]);
        const st = { stroke: "#1a1a1a", lineWidth: 0.8 };
        return {
          type: "group",
          children: [
            { type: "line", shape: { x1: t[0], y1: t[1], x2: bt[0], y2: bt[1] }, style: st },
            { type: "line", shape: { x1: t[0] - 2, y1: t[1], x2: t[0] + 2, y2: t[1] }, style: st },
            { type: "line", shape: { x1: bt[0] - 2, y1: bt[1], x2: bt[0] + 2, y2: bt[1] }, style: st },
          ],
        };
      },
    });
    const reps: any[] = [];
    p.reps.forEach((arr, i) => arr.forEach((v, j) => reps.push({ value: [i, v], symbol: REP_SYMBOLS[j], symbolOffset: [REP_OFFSETS[j], 0] })));
    series.push({
      type: "scatter", xAxisIndex: gi, yAxisIndex: gi, silent: true, z: 4, symbolSize: 3.2,
      itemStyle: { color: "rgba(235,235,235,0.55)", borderColor: "#333", borderWidth: 0.6 },
      data: reps,
    });
    series.push({
      type: "custom", xAxisIndex: gi, yAxisIndex: gi, silent: true, z: 5,
      data: p.sig.map((s) => [s[0], 0]),
      encode: { x: 0, y: 1 },
      renderItem: (params: any, api: any) => {
        const s = p.sig[params.dataIndex];
        const y = p.sigY[params.dataIndex];
        const x1 = api.coord([s[0], 0])[0];
        const x2 = api.coord([s[1], 0])[0];
        const isNs = s[2] === "ns";
        return {
          type: "group",
          children: [
            { type: "polyline", shape: { points: [[x1, y + 2.5], [x1, y], [x2, y], [x2, y + 2.5]] }, style: { stroke: "#555", lineWidth: 0.7, fill: null } },
            {
              type: "text", x: (x1 + x2) / 2, y: isNs ? y - 4.5 : y - 2.5,
              style: { text: s[2], fontSize: isNs ? 6.5 : 8.5, fontWeight: isNs ? "normal" : "bold", fontFamily: FONT, fill: "#222", align: "center", verticalAlign: "middle" },
            },
          ],
        };
      },
    });
    elements.push(txt(p.lx, p.ly, p.letter, 13, { fontWeight: "bold" }));
    elements.push(txt(p.tx, p.ty, p.title, 7, { fill: "#222" }));
  });

  return {
    animation: false,
    backgroundColor: "#ffffff",
    grid,
    xAxis,
    yAxis,
    series,
    graphic: { elements },
  };
}

export default function App() {
  const ref = useRef<HTMLDivElement>(null);
  const [err, setErr] = useState("");
  useEffect(() => {
    const chart = echarts.init(ref.current as HTMLDivElement, null, { renderer: "svg" });
    try {
      chart.setOption(buildOption() as any);
    } catch (e: any) {
      setErr(String(e && e.stack ? e.stack : e).slice(0, 900));
    }
    return () => chart.dispose();
  }, []);
  return (
    <>
      <div ref={ref} style={{ position: "absolute", left: 0, top: 0, width: 659, height: 719, background: "#fff" }} />
      {err ? <pre style={{ position: "absolute", left: 0, top: 0, fontSize: 11, whiteSpace: "pre-wrap", width: 650 }}>{err}</pre> : null}
    </>
  );
}
